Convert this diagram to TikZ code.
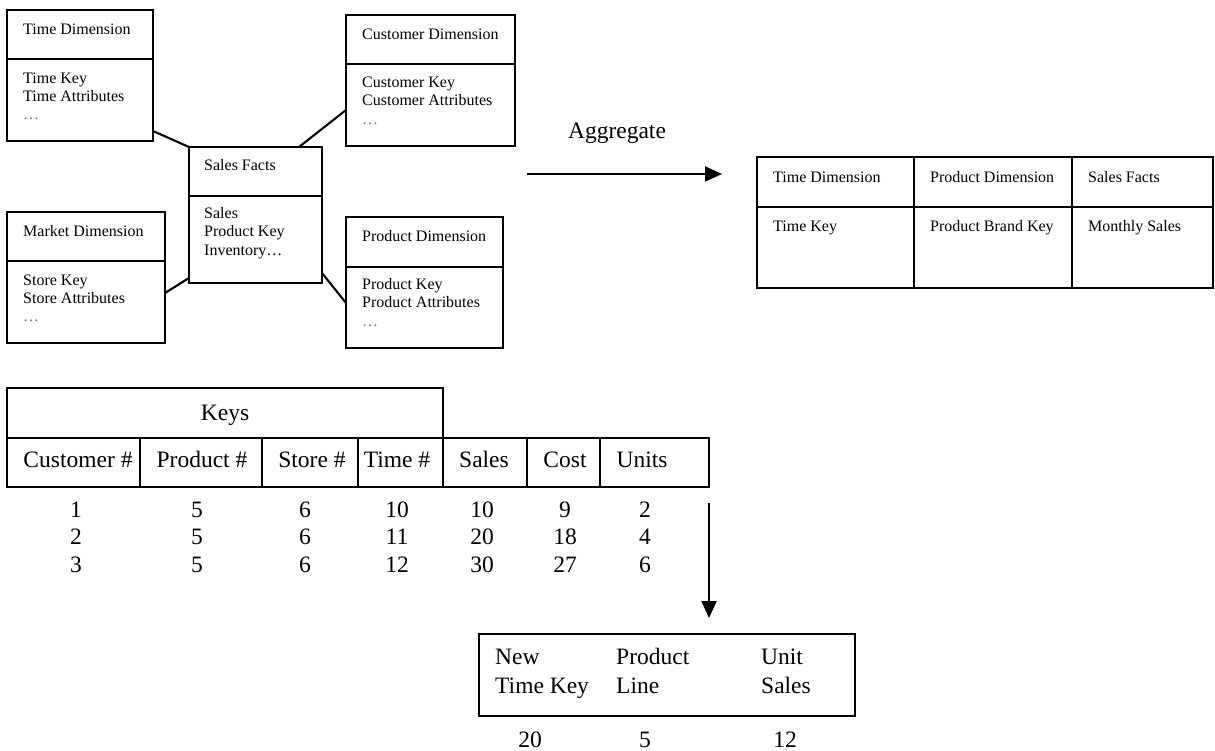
\documentclass[tikz,border=0pt]{standalone}
\usepackage{fontspec}
\setmainfont{Liberation Serif}
\usetikzlibrary{arrows.meta}
\begin{document}
\begin{tikzpicture}[x=1pt,y=-1pt,
  box/.style={draw, line width=2.1pt, inner sep=0pt, outer sep=0pt, anchor=north west},
  sm/.style={font=\fontsize{16}{19}\selectfont, inner sep=0pt, anchor=base west},
  dots/.style={sm, text=black!55},
  lg/.style={font=\fontsize{23.5}{28}\selectfont, inner sep=0pt, anchor=base},
  lgw/.style={lg, anchor=base west},
  ln/.style={line width=2.1pt},
  arr/.style={line width=2.1pt, -{Triangle[length=17pt,width=15pt]}}]
\useasboundingbox (0,0) rectangle (1215,750);

% ---- star schema ----
\node[box, minimum width=146pt, minimum height=131pt] (time) at (7,10) {};
\draw[ln] (time.west |- 0,59) -- (time.east |- 0,59);
\node[sm] (t1) at (23,34) {Time Dimension};
\node[sm] (t2) at (23,83) {Time Key};
\node[sm] (t3) at (23,101) {Time Attributes};
\node[dots] (t4) at (23,119) {…};

\node[box, minimum width=133pt, minimum height=136pt] (sales) at (189,147) {};
\draw[ln] (sales.west |- 0,196) -- (sales.east |- 0,196);
\node[sm] (s1) at (204,170) {Sales Facts};
\node[sm] (s2) at (204,218) {Sales};
\node[sm] (s3) at (204,236) {Product Key};
\node[sm] (s4) at (204,255) {Inventory…};

\node[box, minimum width=158pt, minimum height=131pt] (market) at (7,212) {};
\draw[ln] (market.west |- 0,261) -- (market.east |- 0,261);
\node[sm] (m1) at (23,236) {Market Dimension};
\node[sm] (m2) at (23,285) {Store Key};
\node[sm] (m3) at (23,303) {Store Attributes};
\node[dots] (m4) at (23,321) {…};

\node[box, minimum width=169pt, minimum height=131pt] (cust) at (346,15) {};
\draw[ln] (cust.west |- 0,64) -- (cust.east |- 0,64);
\node[sm] (c1) at (362,39) {Customer Dimension};
\node[sm] (c2) at (362,87) {Customer Key};
\node[sm] (c3) at (362,105) {Customer Attributes};
\node[dots] (c4) at (362,124) {…};

\node[box, minimum width=157pt, minimum height=131pt] (prod) at (346,217) {};
\draw[ln] (prod.west |- 0,267) -- (prod.east |- 0,267);
\node[sm] (p1) at (362,241) {Product Dimension};
\node[sm] (p2) at (362,289) {Product Key};
\node[sm] (p3) at (362,307) {Product Attributes};
\node[dots] (p4) at (362,326) {…};

\draw[ln] ([yshift=10pt]time.south east) -- (sales.north west);
\draw[ln] ([yshift=50pt]market.south east) -- ([yshift=5pt]sales.south west);
\draw[ln] ([xshift=-23pt]sales.north east) -- ([yshift=36pt]cust.south west);
\draw[ln] ([yshift=10pt]sales.south east) -- ([yshift=45pt]prod.south west);

% ---- aggregate arrow ----
\node[lg] (agg) at (617,138) {Aggregate};
\coordinate (a1) at (527,174);
\coordinate (a2) at (722,174);
\draw[arr] (a1) -- (a2);

% ---- aggregated table ----
\node[box, minimum width=157pt, minimum height=50pt] (r11) at (757,157) {};
\node[box, minimum width=158pt, minimum height=50pt] (r12) at (914,157) {};
\node[box, minimum width=141pt, minimum height=50pt] (r13) at (1072,157) {};
\node[box, minimum width=157pt, minimum height=81pt] (r21) at (757,207) {};
\node[box, minimum width=158pt, minimum height=81pt] (r22) at (914,207) {};
\node[box, minimum width=141pt, minimum height=81pt] (r23) at (1072,207) {};
\node[sm] (rt1) at (773,182) {Time Dimension};
\node[sm] (rt2) at (930,182) {Product Dimension};
\node[sm] (rt3) at (1088,182) {Sales Facts};
\node[sm] (rb1) at (773,231) {Time Key};
\node[sm] (rb2) at (930,231) {Product Brand Key};
\node[sm] (rb3) at (1088,231) {Monthly Sales};

% ---- fact table ----
\node[box, minimum width=436pt, minimum height=50pt] (keys) at (7,388) {};
\node[lg] (keyslbl) at (225,420) {Keys};
\node[box, minimum width=133pt, minimum height=49pt] (h1) at (7,438) {};
\node[box, minimum width=122pt, minimum height=49pt] (h2) at (140,438) {};
\node[box, minimum width=96pt, minimum height=49pt] (h3) at (262,438) {};
\node[box, minimum width=85pt, minimum height=49pt] (h4) at (358,438) {};
\node[box, minimum width=84pt, minimum height=49pt] (h5) at (443,438) {};
\node[box, minimum width=73pt, minimum height=49pt] (h6) at (527,438) {};
\node[box, minimum width=109pt, minimum height=49pt] (h7) at (600,438) {};
\node[lg] (l1) at (78,467) {Customer \#};
\node[lg] (l2) at (202,467) {Product \#};
\node[lg] (l3) at (312,467) {Store \#};
\node[lg] (l4) at (397,467) {Time \#};
\node[lg] (l5) at (484,467) {Sales};
\node[lg] (l6) at (565,467) {Cost};
\node[lg] (l7) at (642,467) {Units};

\foreach \y/\r/\a/\b/\c/\d/\e/\f/\g in {517/1/1/5/6/10/10/9/2, 544/2/2/5/6/11/20/18/4, 572/3/3/5/6/12/30/27/6}{
  \node[lg] (d\r a) at (76,\y) {\a};
  \node[lg] (d\r b) at (197,\y) {\b};
  \node[lg] (d\r c) at (305,\y) {\c};
  \node[lg] (d\r d) at (397,\y) {\d};
  \node[lg] (d\r e) at (482,\y) {\e};
  \node[lg] (d\r f) at (565,\y) {\f};
  \node[lg] (d\r g) at (645,\y) {\g};
}

% ---- down arrow and result ----
\coordinate (b1) at (709,503);
\coordinate (b2) at (709,618);
\draw[arr] (b1) -- (b2);

\node[box, minimum width=376pt, minimum height=82pt] (res) at (479,634) {};
\node[lgw] (n1) at (495,664) {New};
\node[lgw] (n2) at (495,693) {Time Key};
\node[lgw] (n3) at (616,664) {Product};
\node[lgw] (n4) at (616,693) {Line};
\node[lgw] (n5) at (761,664) {Unit};
\node[lgw] (n6) at (761,693) {Sales};
\node[lg] (v1) at (530,747) {20};
\node[lg] (v2) at (645,747) {5};
\node[lg] (v3) at (785,747) {12};
\end{tikzpicture}
\end{document}
